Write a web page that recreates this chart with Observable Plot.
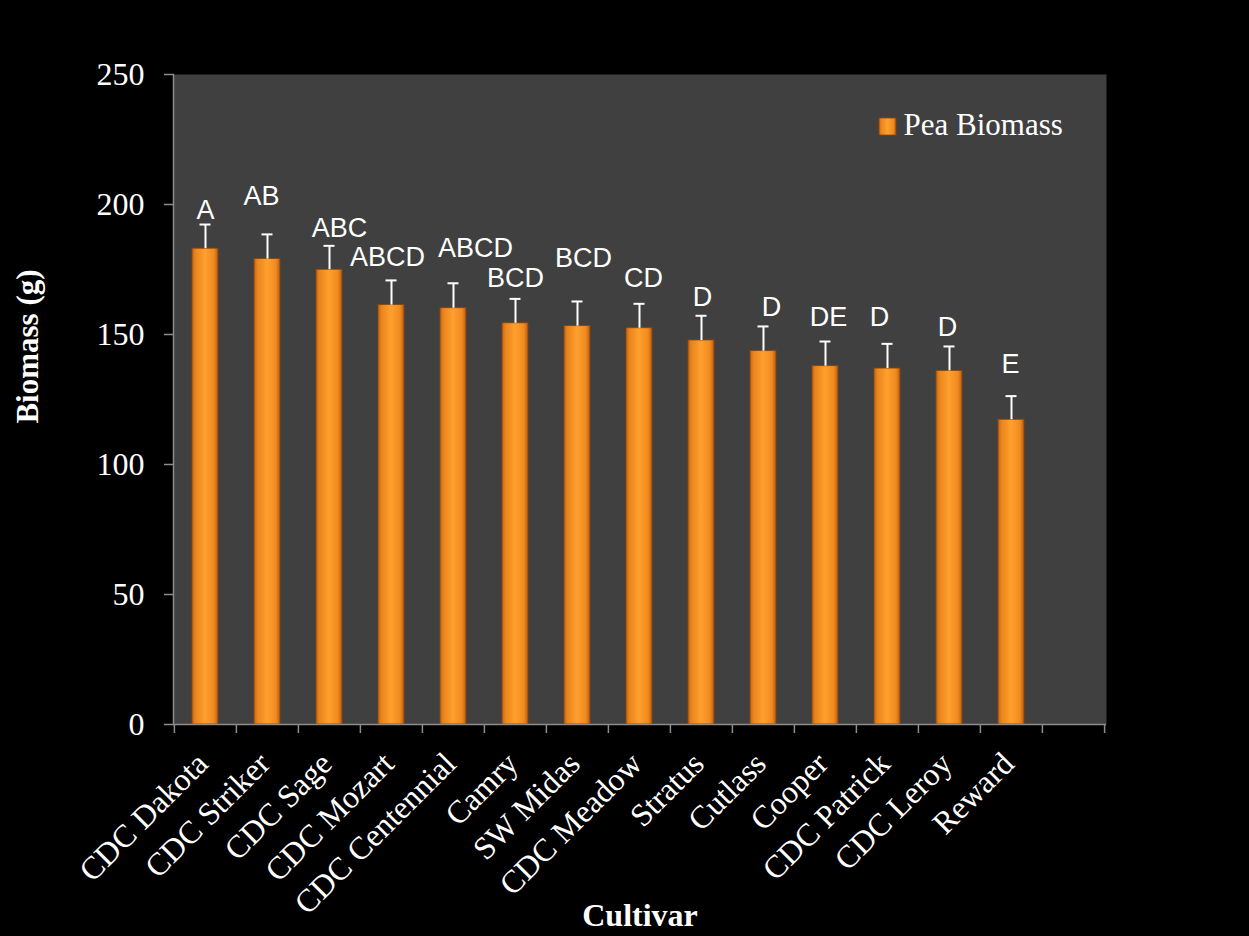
<!DOCTYPE html>
<html>
<head>
<meta charset="utf-8">
<script src="https://cdn.jsdelivr.net/npm/d3@7"></script>
<script src="https://cdn.jsdelivr.net/npm/@observablehq/plot@0.6"></script>
<style>
  html, body { margin: 0; padding: 0; background: #000; }
  #chart { width: 1249px; height: 936px; }
</style>
</head>
<body>
<div id="chart"></div>
<script>
const cultivars = ["CDC Dakota", "CDC Striker", "CDC Sage", "CDC Mozart", "CDC Centennial", "Camry", "SW Midas", "CDC Meadow", "Stratus", "Cutlass", "Cooper", "CDC Patrick", "CDC Leroy", "Reward"];
const biomass = [183.0, 179.0, 174.9, 161.3, 160.1, 154.3, 153.2, 152.4, 147.7, 143.6, 137.8, 136.9, 136.0, 117.2];
const stdError = [9.3, 9.5, 9.2, 9.5, 9.6, 9.4, 9.5, 9.4, 9.5, 9.5, 9.5, 9.5, 9.4, 9.1];
const letters = ["A", "AB", "ABC", "ABCD", "ABCD", "BCD", "BCD", "CD", "D", "D", "DE", "D", "D", "E"];
const letterY = [197.7, 203.1, 191.0, 179.5, 183.0, 171.7, 179.3, 171.7, 164.3, 160.3, 156.7, 156.7, 152.8, 138.5];
const yTicks = [0, 50, 100, 150, 200, 250];
const seriesName = ["Pea Biomass"];
const xTitle = ["Cultivar"];
const yTitle = ["Biomass (g)"];
const emptySlot = " ";

const data = cultivars.map((c, i) => ({cultivar: c, mean: biomass[i], se: stdError[i], letter: letters[i], ly: letterY[i]}));
const slots = [...cultivars, emptySlot];

const W = 1249, H = 936, mL = 173, mR = 143, mT = 74, mB = 212;
const half = (W - mL - mR) / slots.length / 2;
const serif = "'Liberation Serif', 'Times New Roman', serif";
const sans = "'Liberation Sans', Arial, sans-serif";
const axisGray = "#8c8c8c";
// horizontal nudges of the significance letters, as placed in the original figure
const letterNudge = [0, -6, 10, -4, 22, 0, 6, 4, 1, 8, 3, -8, -2, -1];

const chart = Plot.plot({
  width: W, height: H,
  marginLeft: mL, marginRight: mR, marginTop: mT, marginBottom: mB,
  style: {background: "#000", color: "#fff", fontFamily: serif},
  x: {domain: slots, paddingInner: 0.58, paddingOuter: 0.29, axis: null},
  y: {domain: [0, 250], axis: null},
  marks: [
    Plot.frame({fill: "#404040", stroke: "none"}),
    Plot.barY(data, {x: "cultivar", y: "mean", fill: "url(#barGrad)", stroke: "#8a4510", strokeWidth: 0.8}),
    Plot.ruleX(data, {x: "cultivar", y1: "mean", y2: d => d.mean + d.se, stroke: "#fff", strokeWidth: 2}),
    Plot.tickY(data, {x: "cultivar", y: d => d.mean + d.se, stroke: "#fff", strokeWidth: 2, insetLeft: 7.5, insetRight: 7.5}),
    ...data.map((d, i) => Plot.text([d], {x: "cultivar", y: "ly", text: "letter", dx: letterNudge[i], fontFamily: sans, fontSize: 27, fill: "#fff"})),
    // axes
    Plot.frame({anchor: "left", stroke: axisGray, strokeWidth: 1.5}),
    Plot.ruleY([0], {stroke: axisGray, strokeWidth: 1.5}),
    Plot.axisY(yTicks, {tickSize: 9, tickPadding: 20, fontSize: 32, fontFamily: serif, stroke: axisGray, fill: "#fff", label: null, strokeWidth: 1.5}),
    Plot.axisX(slots, {tickSize: 9, dx: -half, tickFormat: () => "", stroke: axisGray, label: null, strokeWidth: 1.5}),
    Plot.axisX([emptySlot], {tickSize: 9, dx: half, tickFormat: () => "", stroke: axisGray, label: null, strokeWidth: 1.5}),
    Plot.text(cultivars, {x: d => d, y: 0, text: d => d, rotate: -45, textAnchor: "end", lineAnchor: "middle", dy: 34, dx: -3, fontSize: 32, fontFamily: serif, fill: "#fff"}),
    // titles
    Plot.text(yTitle, {frameAnchor: "left", text: d => d, rotate: -90, dx: -145, dy: -53, textAnchor: "middle", lineAnchor: "middle", fontSize: 31, fontWeight: "bold", fontFamily: serif, fill: "#fff"}),
    Plot.text(xTitle, {frameAnchor: "bottom", text: d => d, dy: 191, textAnchor: "middle", lineAnchor: "middle", fontSize: 32, fontWeight: "bold", fontFamily: serif, fill: "#fff"}),
    // legend
    Plot.dot(seriesName, {frameAnchor: "top-right", symbol: "square", r: 9.6, dx: -219, dy: 52, fill: "url(#barGrad)", stroke: "#8a4510", strokeWidth: 0.8}),
    Plot.text(seriesName, {frameAnchor: "top-right", text: d => d, dx: -203, dy: 51, textAnchor: "start", lineAnchor: "middle", fontSize: 31, fontFamily: serif, fill: "#fff"})
  ]
});

const ns = "http://www.w3.org/2000/svg";
const defs = document.createElementNS(ns, "defs");
const grad = document.createElementNS(ns, "linearGradient");
grad.setAttribute("id", "barGrad");
grad.setAttribute("x1", "0"); grad.setAttribute("x2", "1");
grad.setAttribute("y1", "0"); grad.setAttribute("y2", "0");
[["0%", "#c0620f"], ["12%", "#e8841c"], ["50%", "#ffa02e"], ["85%", "#ef8a1f"], ["100%", "#b85a10"]].forEach(([o, c]) => {
  const s = document.createElementNS(ns, "stop");
  s.setAttribute("offset", o); s.setAttribute("stop-color", c);
  grad.appendChild(s);
});
defs.appendChild(grad);
chart.insertBefore(defs, chart.firstChild);
document.getElementById("chart").appendChild(chart);
</script>
</body>
</html>
